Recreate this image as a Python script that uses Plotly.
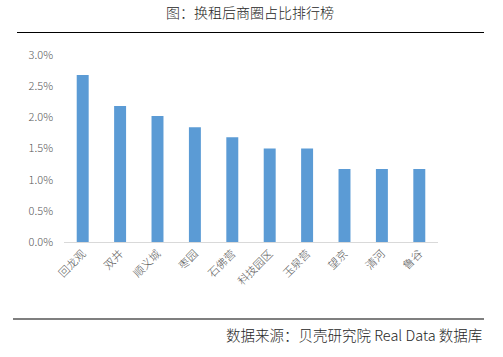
import plotly.graph_objects as go

categories = ["回龙观", "双井", "顺义城", "枣园", "石佛营", "科技园区", "玉泉营", "望京", "清河", "鲁谷"]
shares = [0.0268, 0.0218, 0.0202, 0.0184, 0.0168, 0.0150, 0.0150, 0.0117, 0.0117, 0.0117]
y_ticks = [0.0, 0.005, 0.010, 0.015, 0.020, 0.025, 0.030]
title_text = "图：换租后商圈占比排行榜"
source_text = "数据来源：贝壳研究院 Real Data 数据库"

W, H = 503, 357
L, R, T, B = 64, 65, 55, 115
pw, ph = W - L - R, H - T - B

def px_x(px):
    return (px - L) / pw

def px_y(py):
    return (H - B - py) / ph

font_family = "Noto Sans CJK SC, Microsoft YaHei, sans-serif"

fig = go.Figure(
    go.Bar(
        x=categories,
        y=shares,
        marker=dict(color="#5b9bd5", line=dict(width=0)),
        hoverinfo="x+y",
    )
)

fig.update_layout(
    width=W,
    height=H,
    margin=dict(l=L, r=R, t=T, b=B, pad=0),
    paper_bgcolor="white",
    plot_bgcolor="white",
    bargap=0.68,
    showlegend=False,
    font=dict(family=font_family, color="#595959", size=11, weight=300),
    xaxis=dict(
        tickangle=-45,
        showgrid=False,
        showline=True,
        linecolor="#d9d9d9",
        linewidth=1,
        ticks="",
        tickfont=dict(size=11, color="#595959", weight=300),
        fixedrange=True,
    ),
    yaxis=dict(
        range=[0, 0.030],
        tickvals=y_ticks,
        tickformat=".1%",
        showgrid=False,
        zeroline=False,
        showline=False,
        ticks="",
        ticklabelstandoff=10,
        tickfont=dict(size=11, color="#595959", weight=300),
        fixedrange=True,
    ),
    shapes=[
        dict(type="line", xref="paper", yref="paper",
             x0=px_x(17), x1=px_x(484), y0=px_y(32.5), y1=px_y(32.5),
             line=dict(color="black", width=1.2)),
        dict(type="line", xref="paper", yref="paper",
             x0=px_x(13), x1=px_x(484), y0=px_y(319), y1=px_y(319),
             line=dict(color="black", width=1.2)),
    ],
    annotations=[
        dict(text=title_text, xref="paper", yref="paper",
             x=px_x(250), y=px_y(12), xanchor="center", yanchor="middle",
             showarrow=False,
             font=dict(size=14, color="#262626", family=font_family, weight=300)),
        dict(text=source_text, xref="paper", yref="paper",
             x=px_x(484), y=px_y(334), xanchor="right", yanchor="middle",
             showarrow=False,
             font=dict(size=14.5, color="#262626", family=font_family, weight=300)),
    ],
)

fig.write_html(
    "out.html",
    config={"displayModeBar": False},
    post_script="document.body.style.margin='0';document.body.style.overflow='hidden';",
)
